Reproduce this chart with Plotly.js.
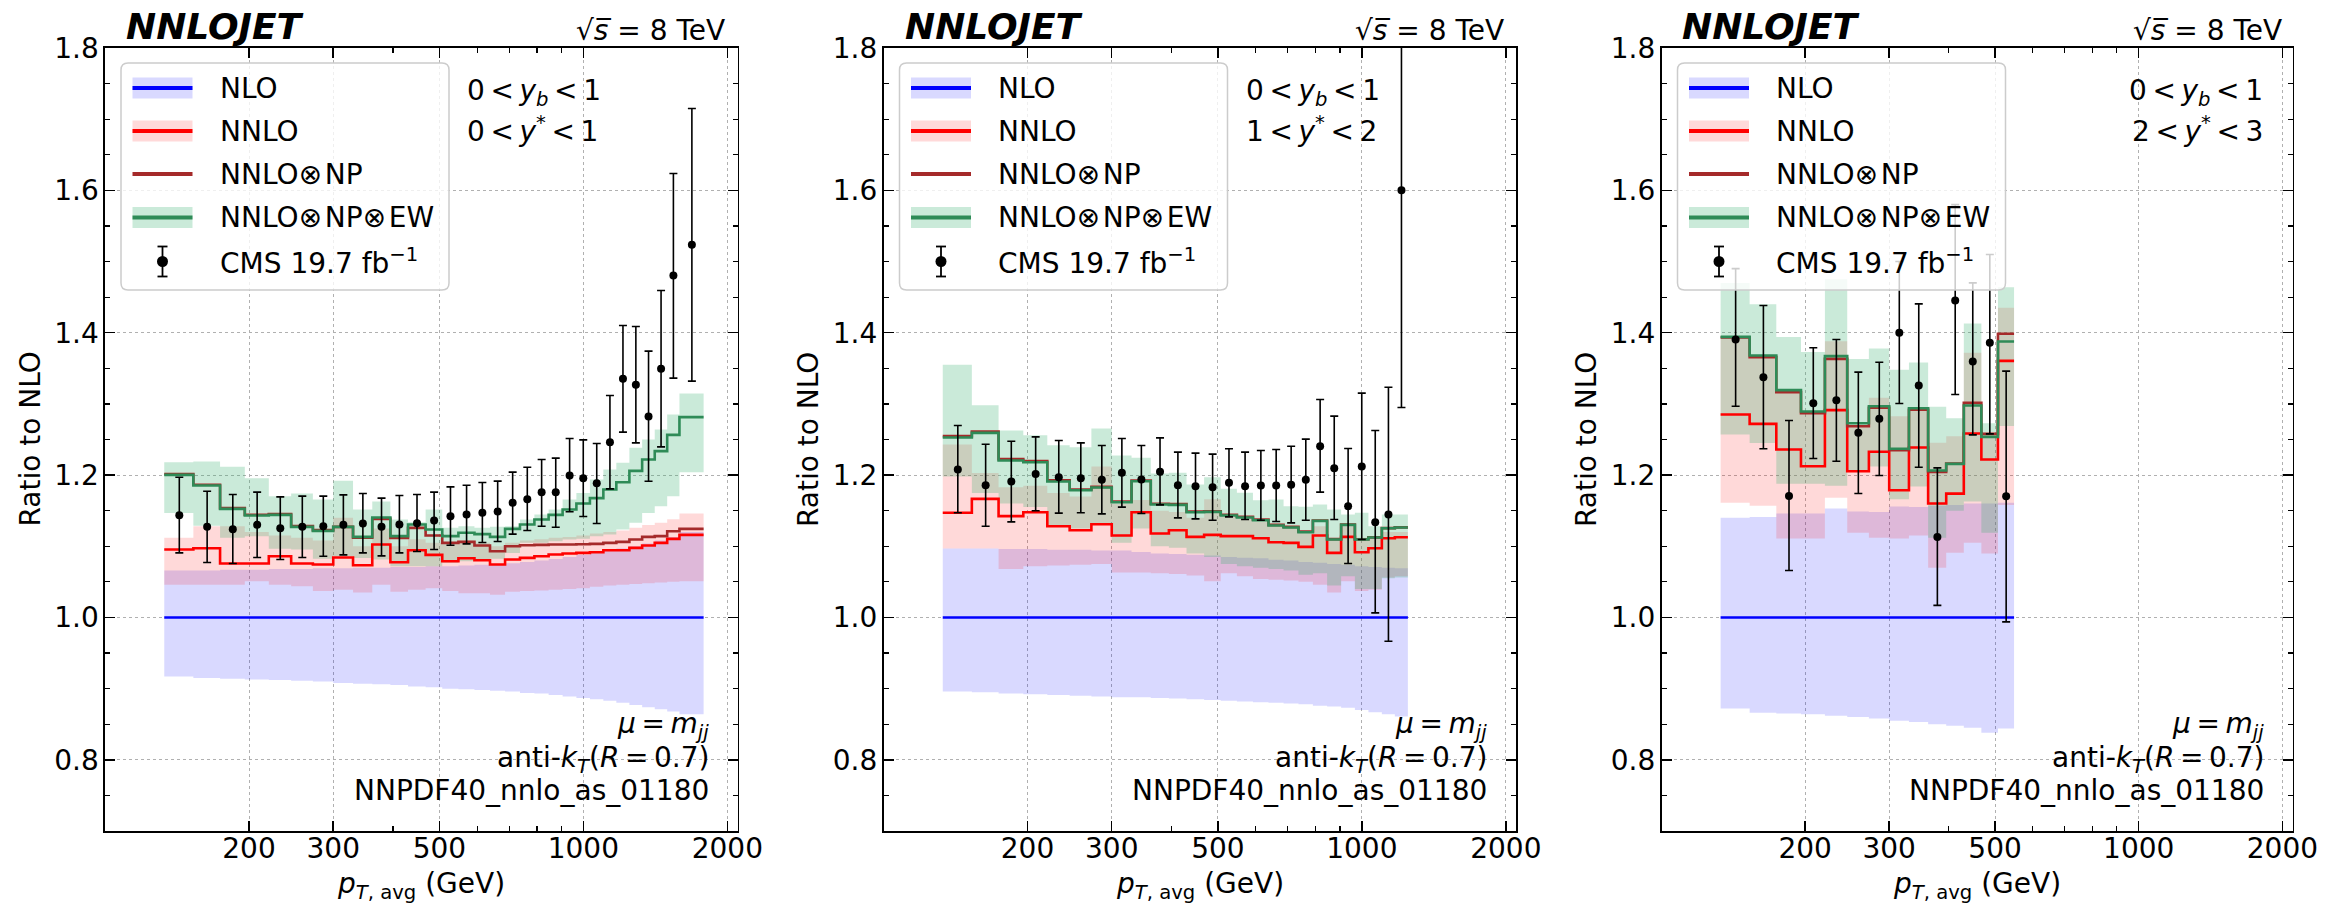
<!DOCTYPE html>
<html><head><meta charset="utf-8">
<script src="https://cdn.plot.ly/plotly-3.0.1.min.js"></script>
<style>body{margin:0;padding:0;background:#fff}</style>
</head><body><div id="chart" style="width:2341px;height:905px"></div>
<script>
// ---------------- data ----------------
const edges1 = [133,153,174,196,220,245,272,300,330,362,395,430,468,507,548,592,638,686,737,790,846,905,967,1032,1101,1172,1248,1327,1410,1497,1588,1784];
const edges2 = [133,153,174,196,220,245,272,300,330,362,395,430,468,507,548,592,638,686,737,790,846,905,967,1032,1101,1172,1248];
const edges3 = [133,153,174,196,220,245,272,300,330,362,395,430,468,507,548];

// panel 1 : 0<yb<1, 0<y*<1
const nloHi1 = [1.066,1.066,1.067,1.067,1.068,1.068,1.069,1.069,1.070,1.070,1.071,1.071,1.072,1.072,1.073,1.074,1.075,1.076,1.078,1.080,1.082,1.085,1.088,1.091,1.094,1.097,1.100,1.104,1.108,1.113,1.120];
const nloLo1 = [0.917,0.915,0.914,0.913,0.912,0.911,0.910,0.908,0.907,0.906,0.905,0.903,0.902,0.900,0.899,0.898,0.897,0.896,0.894,0.893,0.891,0.889,0.887,0.885,0.883,0.880,0.877,0.874,0.871,0.868,0.864];
const nnlo1 = [1.0954,1.0973,1.0757,1.0757,1.086,1.0757,1.0744,1.0842,1.0734,1.1025,1.0776,1.0945,1.0879,1.079,1.0832,1.0804,1.0744,1.0814,1.0837,1.086,1.0884,1.0898,1.0907,1.0917,1.0945,1.0945,1.0978,1.101,1.1048,1.1104,1.116];
const nnloHi1 = [1.112,1.128,1.128,1.120,1.115,1.112,1.108,1.140,1.100,1.125,1.100,1.110,1.105,1.105,1.108,1.105,1.100,1.105,1.108,1.110,1.112,1.113,1.115,1.118,1.120,1.122,1.126,1.130,1.133,1.138,1.146];
const nnloLo1 = [1.046,1.046,1.046,1.051,1.046,1.044,1.037,1.039,1.035,1.046,1.036,1.039,1.041,1.037,1.034,1.034,1.032,1.036,1.037,1.038,1.039,1.040,1.041,1.043,1.045,1.046,1.047,1.048,1.049,1.050,1.051];
const np1 = [1.2013,1.1864,1.1536,1.1442,1.1451,1.1283,1.1227,1.1273,1.112,1.1385,1.1118,1.1259,1.1151,1.1048,1.1062,1.101,1.093,1.1001,1.1015,1.102,1.1025,1.1025,1.1029,1.1034,1.1048,1.1062,1.1095,1.1132,1.1142,1.1212,1.1245];
const ew1 = [1.2003,1.1854,1.1526,1.1432,1.1441,1.1273,1.1217,1.1273,1.1132,1.1404,1.1142,1.1306,1.1235,1.1142,1.1189,1.117,1.1132,1.1245,1.1306,1.1376,1.1441,1.1516,1.16,1.1676,1.1797,1.19,1.2059,1.2219,1.2336,1.2565,1.2814];
const ewHi1 = [1.2181,1.219,1.2116,1.1957,1.1704,1.1741,1.1657,1.1919,1.1516,1.163,1.1376,1.1338,1.1516,1.1259,1.1282,1.1259,1.1273,1.1282,1.1376,1.1446,1.1516,1.1657,1.175,1.1938,1.2078,1.2172,1.2383,1.25,1.2641,1.2851,1.3146];
const ewLo1 = [1.1469,1.129,1.1118,1.114,1.0964,1.0954,1.0823,1.086,1.0837,1.0814,1.072,1.072,1.072,1.0767,1.079,1.0814,1.0823,1.0907,1.1048,1.1048,1.1071,1.1095,1.1104,1.1142,1.1165,1.1235,1.1329,1.1469,1.1563,1.1704,1.204];
const cms1 = [1.1437,1.1273,1.124,1.1301,1.1254,1.1273,1.1282,1.1301,1.132,1.1273,1.1306,1.1324,1.1362,1.1423,1.1446,1.147,1.1488,1.161,1.1662,1.176,1.176,1.1994,1.1957,1.1886,1.2462,1.3352,1.3268,1.2823,1.3493,1.4804,1.5235];
const cmsHi1 = [1.197,1.1774,1.1727,1.176,1.1694,1.1704,1.1704,1.1722,1.1741,1.1676,1.1713,1.1727,1.176,1.1835,1.1858,1.1896,1.1915,1.2041,1.2111,1.2219,1.2238,1.2514,1.2495,1.2444,1.3118,1.4102,1.4088,1.3741,1.4593,1.6237,1.715];
const cmsLo1 = [1.0907,1.0772,1.0757,1.0842,1.0814,1.0842,1.086,1.0879,1.0907,1.0865,1.0907,1.0926,1.0954,1.1015,1.1034,1.1052,1.1067,1.117,1.1221,1.1282,1.1268,1.1484,1.1418,1.132,1.1807,1.2603,1.2453,1.1914,1.2397,1.3362,1.332];

// panel 2 : 0<yb<1, 1<y*<2
const nloHi2 = [1.097,1.097,1.096,1.096,1.095,1.095,1.094,1.094,1.092,1.090,1.089,1.088,1.087,1.085,1.084,1.083,1.081,1.080,1.078,1.077,1.075,1.074,1.072,1.071,1.070,1.069];
const nloLo2 = [0.896,0.895,0.893,0.892,0.891,0.890,0.889,0.888,0.888,0.887,0.886,0.885,0.884,0.883,0.882,0.881,0.880,0.879,0.878,0.876,0.875,0.873,0.870,0.867,0.864,0.861];
const nnlo2 = [1.147,1.1666,1.1423,1.1479,1.1282,1.1226,1.131,1.1151,1.1479,1.1179,1.1226,1.1132,1.116,1.1142,1.1142,1.1113,1.1057,1.1048,1.0992,1.1151,1.0907,1.1132,1.0917,1.0973,1.1113,1.1127];
const nnloHi2 = [1.243,1.203,1.183,1.185,1.175,1.170,1.212,1.160,1.165,1.150,1.148,1.140,1.166,1.145,1.142,1.135,1.132,1.128,1.120,1.128,1.108,1.128,1.112,1.112,1.120,1.120];
const nnloLo2 = [1.097,1.097,1.068,1.072,1.073,1.074,1.075,1.063,1.063,1.062,1.061,1.059,1.051,1.062,1.058,1.054,1.053,1.052,1.050,1.046,1.035,1.051,1.037,1.039,1.056,1.058];
const np2 = [1.2548,1.2613,1.2225,1.2199,1.1928,1.1798,1.1835,1.1629,1.1924,1.1597,1.1592,1.1489,1.1493,1.1442,1.1414,1.1376,1.1301,1.1273,1.1208,1.1362,1.1100,1.1305,1.1098,1.1125,1.1255,1.1265];
const ew2 = [1.2528,1.2593,1.2205,1.2181,1.191,1.1788,1.1825,1.1619,1.1914,1.1587,1.1582,1.1479,1.1483,1.1432,1.1404,1.1366,1.1291,1.1263,1.1198,1.1357,1.1095,1.1301,1.1095,1.1123,1.1254,1.1263];
const ewHi2 = [1.355,1.298,1.2626,1.256,1.242,1.2392,1.2654,1.2275,1.2242,1.2022,1.2032,1.1868,1.1971,1.1807,1.1751,1.1647,1.1657,1.1563,1.1554,1.1587,1.1516,1.1446,1.147,1.1282,1.1446,1.1446];
const ewLo2 = [1.198,1.175,1.160,1.155,1.130,1.125,1.130,1.105,1.125,1.100,1.098,1.090,1.085,1.075,1.072,1.070,1.068,1.066,1.060,1.062,1.045,1.058,1.040,1.040,1.055,1.056];
const cms2 = [1.2078,1.1858,1.191,1.2017,1.197,1.1957,1.1933,1.2032,1.1938,1.2046,1.1858,1.1844,1.183,1.1891,1.1844,1.1853,1.1853,1.1863,1.1933,1.2406,1.2097,1.1563,1.212,1.1338,1.1446,1.6];
const cmsHi2 = [1.2697,1.2434,1.2476,1.2537,1.2486,1.2453,1.2415,1.2514,1.2415,1.2523,1.2322,1.2308,1.2294,1.2369,1.2322,1.2345,1.2359,1.2406,1.2505,1.3062,1.2828,1.2373,1.3151,1.2626,1.3235,1.95];
const cmsLo2 = [1.147,1.1282,1.1343,1.1498,1.1465,1.147,1.1455,1.155,1.146,1.1582,1.1399,1.1385,1.1366,1.1413,1.1376,1.1366,1.1348,1.1329,1.1366,1.176,1.1376,1.0757,1.1095,1.0065,0.9666,1.295];

// panel 3 : 0<yb<1, 2<y*<3
const nloHi3 = [1.140,1.141,1.146,1.146,1.153,1.149,1.148,1.156,1.155,1.157,1.158,1.160,1.160,1.161];
const nloLo3 = [0.872,0.866,0.865,0.864,0.862,0.860,0.858,0.855,0.853,0.850,0.848,0.845,0.838,0.844];
const nnlo3 = [1.2851,1.272,1.2359,1.2125,1.2912,1.2055,1.2327,1.1788,1.2387,1.16,1.174,1.2584,1.2219,1.3605];
const nnloHi3 = [1.395,1.367,1.3165,1.2875,1.388,1.2687,1.3085,1.2828,1.2921,1.2453,1.2547,1.3718,1.2594,1.435];
const nnloLo3 = [1.161,1.157,1.111,1.111,1.168,1.119,1.112,1.111,1.115,1.070,1.091,1.105,1.090,1.158];
const np3 = [1.3933,1.3657,1.3165,1.287,1.3633,1.2687,1.2945,1.235,1.2917,1.2045,1.2163,1.3015,1.2579,1.3985];
const ew3 = [1.3942,1.368,1.3193,1.2893,1.3671,1.2729,1.2968,1.2369,1.294,1.2064,1.2158,1.2978,1.2537,1.3877];
const ewHi3 = [1.47,1.44,1.394,1.373,1.475,1.363,1.378,1.348,1.358,1.296,1.28,1.413,1.273,1.464];
const ewLo3 = [1.257,1.245,1.188,1.188,1.185,1.205,1.212,1.166,1.184,1.112,1.15,1.163,1.119,1.269];
const cms3 = [1.3905,1.3376,1.1708,1.301,1.3053,1.2594,1.279,1.3999,1.3259,1.1132,1.4453,1.3596,1.3858,1.1703];
const cmsHi3 = [1.49,1.4383,1.2767,1.3788,1.3905,1.3446,1.3586,1.50,1.4406,1.2102,1.58,1.47,1.51,1.346];
const cmsLo3 = [1.2968,1.2369,1.0659,1.2233,1.2195,1.1741,1.1994,1.3006,1.2111,1.017,1.3132,1.2565,1.2579,0.9938];

const xTickVals = [200,300,500,1000,2000];
const xTickText = ['200','300','500','1000','2000'];
const xMinorVals = [400,600,700,800,900];
const TS = '\u2009'; // thin space (math relation spacing)
const HS = '\u200A'; // hair space
const rapLabels = [
  ['0'+TS+'&lt;'+TS+'<i>y</i><sub><i>b</i></sub>'+TS+'&lt;'+TS+'1', '0'+TS+'&lt;'+TS+'<i>y</i><sup>*</sup>'+TS+'&lt;'+TS+'1'],
  ['0'+TS+'&lt;'+TS+'<i>y</i><sub><i>b</i></sub>'+TS+'&lt;'+TS+'1', '1'+TS+'&lt;'+TS+'<i>y</i><sup>*</sup>'+TS+'&lt;'+TS+'2'],
  ['0'+TS+'&lt;'+TS+'<i>y</i><sub><i>b</i></sub>'+TS+'&lt;'+TS+'1', '2'+TS+'&lt;'+TS+'<i>y</i><sup>*</sup>'+TS+'&lt;'+TS+'3']
];
const OT = '⊗' + HS;
const legendNames = ['NLO', 'NNLO', 'NNLO' + OT + 'NP', 'NNLO' + OT + 'NP' + OT + 'EW', 'CMS 19.7 fb<sup>−1</sup>'];

// ---------------- styling ----------------
const W = 2341, H = 905;
const FONT = 'DejaVu Sans';
const C_BLUE = 'rgb(0,0,255)', C_RED = 'rgb(255,0,0)', C_BROWN = 'rgb(165,42,42)', C_GREEN = 'rgb(46,139,87)';
const F_BLUE = 'rgba(0,0,255,0.15)', F_RED = 'rgba(255,0,0,0.15)', F_GREEN = 'rgba(60,179,113,0.27)';
const PANELS = [
  {L:105, R:737.5, rapRight:false},
  {L:883.5, R:1516, rapRight:false},
  {L:1661.5, R:2292.5, rapRight:true}
];
const TOP = 48, BOT = 831;
const px = v => v / W, py = v => 1 - v / H;

const sets = [
  {edges:edges1, nloHi:nloHi1, nloLo:nloLo1, nnlo:nnlo1, nnloHi:nnloHi1, nnloLo:nnloLo1, np:np1, ew:ew1, ewHi:ewHi1, ewLo:ewLo1, cms:cms1, cmsHi:cmsHi1, cmsLo:cmsLo1},
  {edges:edges2, nloHi:nloHi2, nloLo:nloLo2, nnlo:nnlo2, nnloHi:nnloHi2, nnloLo:nnloLo2, np:np2, ew:ew2, ewHi:ewHi2, ewLo:ewLo2, cms:cms2, cmsHi:cmsHi2, cmsLo:cmsLo2},
  {edges:edges3, nloHi:nloHi3, nloLo:nloLo3, nnlo:nnlo3, nnloHi:nnloHi3, nnloLo:nnloLo3, np:np3, ew:ew3, ewHi:ewHi3, ewLo:ewLo3, cms:cms3, cmsHi:cmsHi3, cmsLo:cmsLo3}
];

const stepY = v => v.concat([v[v.length - 1]]);
const traces = [];
function bandTraces(edges, lo, hi, color, xa, ya) {
  traces.push({x:edges, y:stepY(lo), xaxis:xa, yaxis:ya, type:'scatter', mode:'lines', line:{width:0, shape:'hv', color:'rgba(0,0,0,0)'}, hoverinfo:'skip', showlegend:false});
  traces.push({x:edges, y:stepY(hi), xaxis:xa, yaxis:ya, type:'scatter', mode:'lines', line:{width:0, shape:'hv', color:'rgba(0,0,0,0)'}, fill:'tonexty', fillcolor:color, hoverinfo:'skip', showlegend:false});
}
function stepLine(edges, v, color, xa, ya, w) {
  traces.push({x:edges, y:stepY(v), xaxis:xa, yaxis:ya, type:'scatter', mode:'lines', line:{width:w, shape:'hv', color:color}, hoverinfo:'skip', showlegend:false});
}

const layout = {
  width:W, height:H, margin:{l:0,r:0,t:0,b:0}, paper_bgcolor:'white', plot_bgcolor:'white',
  showlegend:false, font:{family:FONT, size:28, color:'black'},
  shapes:[], annotations:[]
};

sets.forEach((s, i) => {
  const n = i === 0 ? '' : String(i + 1);
  const xa = 'x' + n, ya = 'y' + n;
  const P = PANELS[i];
  const ones = s.nnlo.map(() => 1.0);
  bandTraces(s.edges, s.nloLo, s.nloHi, F_BLUE, xa, ya);
  bandTraces(s.edges, s.nnloLo, s.nnloHi, F_RED, xa, ya);
  bandTraces(s.edges, s.ewLo, s.ewHi, F_GREEN, xa, ya);
  stepLine(s.edges, ones, C_BLUE, xa, ya, 2.6);
  stepLine(s.edges, s.nnlo, C_RED, xa, ya, 2.6);
  stepLine(s.edges, s.np, C_BROWN, xa, ya, 2.6);
  stepLine(s.edges, s.ew, C_GREEN, xa, ya, 2.6);
  const cx = s.cms.map((_, k) => 0.5 * (s.edges[k] + s.edges[k + 1]));
  traces.push({x:cx, y:s.cms, xaxis:xa, yaxis:ya, type:'scatter', mode:'markers',
    marker:{color:'black', size:8},
    error_y:{type:'data', symmetric:false, array:s.cmsHi.map((h, k) => h - s.cms[k]), arrayminus:s.cms.map((c, k) => c - s.cmsLo[k]), color:'black', thickness:1.6, width:4},
    hoverinfo:'skip', showlegend:false});

  layout['xaxis' + n] = {
    domain:[px(P.L), px(P.R)], anchor:ya, type:'log', range:[2, Math.log10(2100)],
    tickmode:'array', tickvals:xTickVals, ticktext:xTickText,
    ticks:'inside', ticklen:10, tickwidth:1.5, tickcolor:'black',
    showline:true, linecolor:'black', linewidth:1.6, mirror:'allticks',
    showgrid:true, gridcolor:'#b0b0b0', griddash:'dot', gridwidth:1, zeroline:false,
    tickfont:{family:FONT, size:28, color:'black'}, ticklabelstandoff:-8,
    minor:{tickmode:'array', tickvals:xMinorVals, ticks:'inside', ticklen:5, tickwidth:1.2, tickcolor:'black', showgrid:false}
  };
  layout['yaxis' + n] = {
    domain:[py(BOT), py(TOP)], anchor:xa, range:[0.7, 1.8],
    tickmode:'linear', tick0:0, dtick:0.2, tickformat:'.1f',
    ticks:'inside', ticklen:10, tickwidth:1.5, tickcolor:'black',
    showline:true, linecolor:'black', linewidth:1.6, mirror:'allticks',
    showgrid:true, gridcolor:'#b0b0b0', griddash:'dot', gridwidth:1, zeroline:false,
    tickfont:{family:FONT, size:28, color:'black'}, ticklabelstandoff:-1,
    minor:{tick0:0, dtick:0.05, ticks:'inside', ticklen:5, tickwidth:1.2, tickcolor:'black', showgrid:false}
  };

  const A = layout.annotations, S = layout.shapes;
  const ann = (x, y, text, opts) => A.push(Object.assign({xref:'paper', yref:'paper', x:px(x), y:py(y), text:text, showarrow:false, font:{family:FONT, size:28, color:'black'}, xanchor:'left', yanchor:'middle'}, opts || {}));
  // header
  ann(P.L + 19, 27, '<b><i>NNLOJET</i></b>', {font:{family:FONT, size:36, color:'black'}});
  ann(P.L + 622, 30, '√<i>s̅</i> = 8 TeV', {xanchor:'right'});
  // axis titles
  ann((P.L + P.R) / 2, 885.5, '<i>p</i><sub><i>T</i>, avg</sub> (GeV)', {xanchor:'center'});
  ann(P.L - 75, (TOP + BOT) / 2, 'Ratio to NLO', {xanchor:'center', textangle:-90});
  // rapidity labels
  if (P.rapRight) {
    ann(P.R - 27.5, 92, rapLabels[i][0], {xanchor:'right'});
    ann(P.R - 27.5, 130, rapLabels[i][1], {xanchor:'right'});
  } else {
    ann(P.L + 360, 92, rapLabels[i][0]);
    ann(P.L + 360, 130, rapLabels[i][1]);
  }
  // bottom-right info
  ann(P.R - 27, 725, '<i>μ</i>'+TS+'='+TS+'<i>m</i><sub><i>jj</i></sub>', {xanchor:'right'});
  ann(P.R - 27, 759, 'anti-<i>k</i><sub><i>T</i></sub>(<i>R</i>'+TS+'='+TS+'0.7)', {xanchor:'right'});
  ann(P.R - 27, 790, 'NNPDF40_nnlo_as_01180', {xanchor:'right'});

  // legend box (rounded)
  const bx0 = P.L + 16, bx1 = P.L + 344, by0 = 63, by1 = 290, r = 7;
  const pt = (x, y) => px(x) + ',' + py(y);
  S.push({type:'path', xref:'paper', yref:'paper', layer:'above',
    path:'M' + pt(bx0 + r, by0) + ' L' + pt(bx1 - r, by0) + ' Q' + pt(bx1, by0) + ' ' + pt(bx1, by0 + r) +
         ' L' + pt(bx1, by1 - r) + ' Q' + pt(bx1, by1) + ' ' + pt(bx1 - r, by1) +
         ' L' + pt(bx0 + r, by1) + ' Q' + pt(bx0, by1) + ' ' + pt(bx0, by1 - r) +
         ' L' + pt(bx0, by0 + r) + ' Q' + pt(bx0, by0) + ' ' + pt(bx0 + r, by0) + ' Z',
    fillcolor:'rgba(255,255,255,0.8)', line:{color:'#cccccc', width:1.5}});
  const ys = [88, 131, 174, 217.5, 261.5];
  const hx0 = P.L + 27.5, hx1 = P.L + 87.5, hxc = (hx0 + hx1) / 2;
  const patch = (y, col) => S.push({type:'rect', xref:'paper', yref:'paper', layer:'above', x0:px(hx0), x1:px(hx1), y0:py(y - 10.5), y1:py(y + 10.5), fillcolor:col, line:{width:0}});
  const hline = (y, col) => S.push({type:'line', xref:'paper', yref:'paper', layer:'above', x0:px(hx0), x1:px(hx1), y0:py(y), y1:py(y), line:{color:col, width:4}});
  patch(ys[0], F_BLUE); hline(ys[0], C_BLUE);
  patch(ys[1], F_RED); hline(ys[1], C_RED);
  hline(ys[2], C_BROWN);
  patch(ys[3], F_GREEN); hline(ys[3], C_GREEN);
  S.push({type:'line', xref:'paper', yref:'paper', layer:'above', x0:px(hxc), x1:px(hxc), y0:py(ys[4] - 15), y1:py(ys[4] + 15), line:{color:'black', width:1.8}});
  S.push({type:'line', xref:'paper', yref:'paper', layer:'above', x0:px(hxc - 5), x1:px(hxc + 5), y0:py(ys[4] - 15), y1:py(ys[4] - 15), line:{color:'black', width:1.8}});
  S.push({type:'line', xref:'paper', yref:'paper', layer:'above', x0:px(hxc - 5), x1:px(hxc + 5), y0:py(ys[4] + 15), y1:py(ys[4] + 15), line:{color:'black', width:1.8}});
  S.push({type:'circle', xref:'paper', yref:'paper', layer:'above', x0:px(hxc - 5.5), x1:px(hxc + 5.5), y0:py(ys[4] - 5.5), y1:py(ys[4] + 5.5), fillcolor:'black', line:{width:0}});
  legendNames.forEach((t, k) => ann(P.L + 112.5, ys[k], t));
});

Plotly.newPlot('chart', traces, layout, {displayModeBar:false, staticPlot:true});
</script></body></html>
